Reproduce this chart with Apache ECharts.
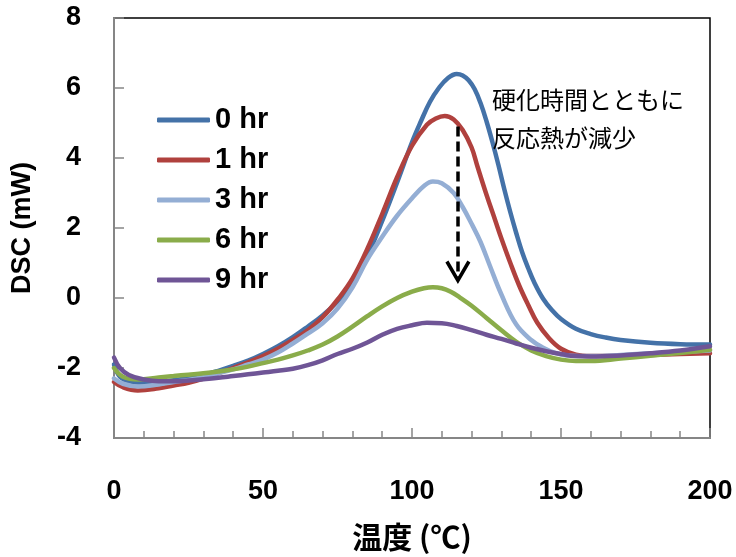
<!DOCTYPE html>
<html lang="ja">
  <head>
    <meta charset="UTF-8" />
    <title>DSC</title>
    <style>
      html, body { margin: 0; padding: 0; background: #fff; }
      .box { width: 736px; height: 557px; }
    </style>
  </head>
  <body>
    <div class="box"></div>
    <script src="https://cdn.jsdelivr.net/npm/echarts@6/dist/echarts.min.js"></script>
    <script>
      // 温度 (℃), DSC (mW)
      var hr0 = [
        [0,-1.9],[2,-2.25],[5,-2.38],[10,-2.43],[15,-2.4],[20,-2.35],[25,-2.28],[30,-2.2],[35,-2.08],
        [40,-1.94],[45,-1.79],[50,-1.6],[55,-1.38],[60,-1.12],[65,-0.82],[70,-0.5],[75,-0.1],[80,0.4],
        [85,1.2],[90,2.2],[95,3.3],[100,4.45],[103,5.05],[106,5.6],[109,6.0],[112,6.28],[115,6.4],[117,6.36],
        [119,6.22],[121,5.97],[123,5.57],[125,5.05],[127,4.45],[129,3.8],[131,3.1],[133,2.45],[135,1.85],
        [137,1.3],[139,0.85],[141,0.45],[144,-0.02],[147,-0.35],[150,-0.6],[155,-0.88],[160,-1.03],
        [165,-1.13],[170,-1.2],[180,-1.28],[190,-1.32],[200,-1.33]
      ];
      var hr1 = [
        [0,-2.4],[3,-2.55],[8,-2.64],[15,-2.58],[20,-2.5],[25,-2.42],[30,-2.3],[35,-2.15],[40,-2.0],
        [45,-1.84],[50,-1.66],[55,-1.45],[60,-1.2],[65,-0.92],[70,-0.55],[75,-0.05],[80,0.55],[85,1.4],
        [90,2.4],[95,3.45],[100,4.35],[105,4.95],[108,5.13],[111,5.2],[114,5.1],[117,4.8],[120,4.3],
        [122,3.75],[125,2.95],[128,2.2],[130,1.7],[133,1.0],[136,0.35],[139,-0.2],[142,-0.7],[146,-1.15],
        [150,-1.45],[155,-1.62],[160,-1.66],[170,-1.66],[180,-1.63],[190,-1.6],[200,-1.58]
      ];
      var hr3 = [
        [0,-2.3],[3,-2.45],[8,-2.53],[15,-2.47],[20,-2.4],[25,-2.34],[30,-2.26],[35,-2.15],[40,-2.04],
        [45,-1.9],[50,-1.76],[55,-1.56],[60,-1.3],[65,-1.02],[70,-0.72],[75,-0.3],[80,0.3],[85,1.1],
        [90,1.75],[95,2.35],[100,2.85],[104,3.2],[107,3.33],[110,3.28],[114,3.0],[117,2.6],[120,2.12],
        [123,1.6],[126,0.95],[130,0.1],[135,-0.76],[140,-1.2],[144,-1.42],[148,-1.57],[152,-1.64],
        [160,-1.66],[170,-1.63],[180,-1.58],[190,-1.54],[200,-1.5]
      ];
      var hr6 = [
        [0,-2.0],[3,-2.25],[8,-2.33],[15,-2.27],[20,-2.23],[25,-2.19],[30,-2.15],[35,-2.1],[40,-2.04],
        [45,-1.96],[50,-1.86],[55,-1.76],[60,-1.64],[65,-1.5],[70,-1.33],[75,-1.1],[80,-0.82],[85,-0.52],
        [90,-0.24],[95,0.0],[100,0.18],[104,0.28],[107,0.31],[110,0.28],[113,0.18],[116,0.02],[120,-0.22],
        [125,-0.57],[130,-0.92],[135,-1.25],[140,-1.5],[145,-1.66],[150,-1.76],[155,-1.8],[160,-1.8],
        [170,-1.73],[180,-1.65],[190,-1.57],[200,-1.48]
      ];
      var hr9 = [
        [0,-1.7],[2,-2.0],[5,-2.2],[10,-2.33],[15,-2.38],[20,-2.38],[25,-2.36],[30,-2.32],[35,-2.28],
        [40,-2.23],[45,-2.18],[50,-2.13],[55,-2.08],[60,-2.02],[65,-1.92],[70,-1.78],[75,-1.6],[80,-1.45],
        [85,-1.27],[90,-1.05],[95,-0.88],[100,-0.78],[105,-0.71],[110,-0.72],[115,-0.8],[120,-0.92],
        [125,-1.05],[130,-1.17],[135,-1.3],[140,-1.42],[145,-1.52],[150,-1.6],[155,-1.66],[160,-1.67],
        [170,-1.64],[180,-1.58],[190,-1.5],[200,-1.38]
      ];

      var names = ['0 hr', '1 hr', '3 hr', '6 hr', '9 hr'];
      var colors = ['#4472a8', '#b0413e', '#94aed4', '#8aac4a', '#6f5596'];
      var allData = [hr0, hr1, hr3, hr6, hr9];

      // arrow: from (x, yTop) down to (x, yTip)
      var arrowX = 115.4, arrowTop = 4.9, arrowTip = 0.5;
      var note = ['硬化時間とともに', '反応熱が減少'];

      var numFont = "'Liberation Sans', Arial, sans-serif";
      var jpFont = "'Noto Sans CJK JP', 'Noto Sans CJK SC', sans-serif";

      var myChart = echarts.init(document.querySelector('.box'));

      var series = allData.map(function (d, i) {
        return {
          name: names[i],
          type: 'line',
          data: d,
          smooth: 0.4,
          showSymbol: false,
          symbol: 'none',
          lineStyle: { width: 4.5, color: colors[i], cap: 'round' },
          itemStyle: { color: colors[i] }
        };
      });

      // dashed shaft of the arrow
      series[4].markLine = {
        silent: true,
        symbol: ['none', 'none'],
        label: { show: false },
        lineStyle: { color: '#000', width: 3.5, type: [10, 5] },
        data: [[{ coord: [arrowX, arrowTop] }, { coord: [arrowX, arrowTip + 0.1] }]],
        z: 10
      };

      var option = {
        animation: false,
        backgroundColor: '#fff',
        grid: {
          left: 114, right: 26, top: 18, bottom: 116,
          show: true, borderColor: '#000', borderWidth: 1.5, backgroundColor: '#fff'
        },
        legend: {
          orient: 'vertical',
          left: 157, top: 105, padding: 0,
          icon: 'roundRect',
          itemWidth: 53, itemHeight: 5, itemGap: 10,
          data: names,
          textStyle: { fontFamily: numFont, fontWeight: 'bold', fontSize: 29, color: '#000', lineHeight: 30 }
        },
        xAxis: {
          type: 'value', min: 0, max: 200, interval: 50,
          name: '温度 (℃)', nameLocation: 'middle', nameGap: 84,
          nameTextStyle: { fontFamily: jpFont, fontWeight: 'bold', fontSize: 30, color: '#000' },
          axisLine: { onZero: false, lineStyle: { color: '#868686', width: 2 } },
          axisTick: { inside: true, length: 10, lineStyle: { color: '#868686', width: 1.5 } },
          minorTick: { show: true, splitNumber: 5, length: 7, lineStyle: { color: '#868686', width: 1.5 } },
          splitLine: { show: false },
          axisLabel: { margin: 40, fontFamily: numFont, fontWeight: 'bold', fontSize: 27, color: '#000' }
        },
        yAxis: {
          type: 'value', min: -4, max: 8, interval: 2,
          name: 'DSC (mW)', nameLocation: 'middle', nameGap: 78, nameRotate: 90,
          nameTextStyle: { fontFamily: numFont, fontWeight: 'bold', fontSize: 27, color: '#000' },
          axisLine: { show: true, onZero: false, lineStyle: { color: '#868686', width: 2 } },
          axisTick: { show: true, inside: true, length: 10, lineStyle: { color: '#868686', width: 1.5 } },
          splitLine: { show: false },
          axisLabel: { margin: 33, fontFamily: numFont, fontWeight: 'bold', fontSize: 27, color: '#000' }
        },
        series: series
      };
      myChart.setOption(option);

      // arrow head and note text
      var tip = myChart.convertToPixel({ gridIndex: 0 }, [arrowX, arrowTip]);
      myChart.setOption({
        graphic: [
          {
            type: 'polyline', z: 100,
            shape: { points: [[tip[0] - 11, tip[1] - 19], [tip[0], tip[1]], [tip[0] + 11, tip[1] - 19]] },
            style: { stroke: '#000', lineWidth: 3.5, fill: null }
          },
          {
            type: 'text', z: 100, left: 492, top: 88,
            style: { text: note[0], font: '24px ' + jpFont, fill: '#000' }
          },
          {
            type: 'text', z: 100, left: 492, top: 126,
            style: { text: note[1], font: '24px ' + jpFont, fill: '#000' }
          }
        ]
      });
    </script>
  </body>
</html>
